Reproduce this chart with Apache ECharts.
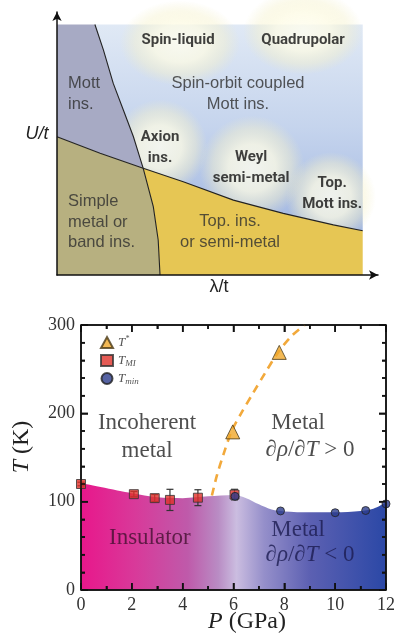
<!DOCTYPE html>
<html><head><meta charset="utf-8">
<script src="https://cdn.jsdelivr.net/npm/echarts@6/dist/echarts.min.js"></script>
<style>html,body{margin:0;padding:0;background:#fff}#c{width:394px;height:640px}</style>
</head><body><div id="c"></div>
<script>
// ===== Top panel: schematic phase diagram (lambda/t vs U/t, arbitrary units 0..10) =====
const mottLineX = [1.24, 1.52, 1.84, 2.17, 2.50, 2.82, 3.15, 3.31, 3.37];
const mottLineY = [10.0, 8.98, 7.65, 6.59, 5.52, 4.26, 2.73, 1.40, 0];
const bandLineX = [0, 1.41, 2.82, 4.13, 5.77, 7.40, 9.04, 10.0];
const bandLineY = [5.52, 4.86, 4.26, 3.72, 2.99, 2.46, 2.00, 1.77];
const regionMax = 10;

const topLabelText = ['Spin-liquid', 'Quadrupolar', 'Spin-orbit coupled\nMott ins.', 'Mott\nins.',
  'Axion\nins.', 'Weyl\nsemi-metal', 'Top.\nMott ins.', 'Simple\nmetal or\nband ins.', 'Top. ins.\nor semi-metal'];
const topLabelX = [3.96, 8.05, 5.92, 0.36, 3.37, 6.35, 9.0, 0.36, 5.66];
const topLabelY = [9.38, 9.38, 7.21, 7.21, 5.09, 4.29, 3.25, 2.10, 1.70];

const glowX = [4.02, 8.05, 3.37, 6.38, 8.96];
const glowY = [9.26, 9.70, 5.11, 4.27, 3.11];

// ===== Bottom panel: T-P phase diagram =====
const tStarP = [5.97, 7.8];
const tStarT = [179, 269];
const tmiP = [0, 2.08, 2.9, 3.5, 4.6, 6.04];
const tmiT = [120, 108.5, 104, 102, 104.5, 108];
const tmiErr = [2, 3, 4, 12, 9, 6];
const tminP = [6.06, 7.85, 10.0, 11.2, 12.0];
const tminT = [106, 89.5, 87.5, 90, 97.5];
const boundaryP = [0, 2, 3, 4, 5, 6, 6.5, 7, 7.5, 8, 9, 10, 11, 11.5, 12];
const boundaryT = [121, 109.5, 105, 104, 106, 107.5, 104, 97, 91, 89, 88, 88, 89.5, 92, 99];
const crossoverP = [5.15, 5.35, 5.6, 5.93, 6.3, 6.75, 7.25, 7.78, 8.3, 8.8];
const crossoverT = [107, 130, 153, 180, 200, 222, 246, 270, 288, 300];
const xTicks = [0, 2, 4, 6, 8, 10, 12];
const xMinorTicks = [1, 3, 5, 7, 9, 11];
const yTicks = [0, 100, 200, 300];
const yMinorTicks = [20, 40, 60, 80, 120, 140, 160, 180, 220, 240, 260, 280];

// ---------- styles ----------
const SANS = '"Liberation Sans", Arial, sans-serif';
const NARROW = 'Roboto, "Liberation Sans", sans-serif';
const SERIF = '"Liberation Serif", "Times New Roman", serif';
const boldSet = new Set([0, 1, 4, 5, 6]);
const leftSet = new Set([3, 7]);
const glowSizes = [[120, 85], [120, 85], [95, 95], [105, 105], [90, 90]];
const glowColor = {
  type: 'radial', x: 0.5, y: 0.5, r: 0.5,
  colorStops: [
    { offset: 0, color: 'rgba(255,254,240,1)' },
    { offset: 0.45, color: 'rgba(253,251,228,0.95)' },
    { offset: 0.75, color: 'rgba(246,242,205,0.55)' },
    { offset: 1, color: 'rgba(240,236,195,0)' }
  ]
};

function pts(api, xs, ys, from, to) {
  const out = [];
  if (from <= to) { for (let i = from; i <= to; i++) out.push(api.coord([xs[i], ys[i]])); }
  else { for (let i = from; i >= to; i--) out.push(api.coord([xs[i], ys[i]])); }
  return out;
}
const mI = 5, bI = 2; // crossing point index in mott / band boundary
const mLast = mottLineX.length - 1, bLast = bandLineX.length - 1;

function renderBlue(params, api) {
  const p = [].concat(pts(api, mottLineX, mottLineY, 0, mI), pts(api, bandLineX, bandLineY, bI, bLast),
    [api.coord([regionMax, regionMax])]);
  return { type: 'polygon', shape: { points: p }, style: { fill: {
    type: 'linear', x: 0, y: 0, x2: 0, y2: 1,
    colorStops: [{ offset: 0, color: '#e0e9f5' }, { offset: 0.5, color: '#c5d4ed' }, { offset: 1, color: '#a2b7e1' }] } } };
}
function renderRegions(params, api) {
  const mott = [].concat([api.coord([0, regionMax])], pts(api, mottLineX, mottLineY, 0, mI), pts(api, bandLineX, bandLineY, bI, 0));
  const simple = [].concat(pts(api, bandLineX, bandLineY, 0, bI), pts(api, mottLineX, mottLineY, mI + 1, mLast), [api.coord([0, 0])]);
  const topIns = [].concat(pts(api, bandLineX, bandLineY, bI, bLast), [api.coord([regionMax, 0])], pts(api, mottLineX, mottLineY, mLast, mI + 1));
  return { type: 'group', children: [
    { type: 'polygon', shape: { points: mott }, style: { fill: '#a7aac4' } },
    { type: 'polygon', shape: { points: simple }, style: { fill: '#b7b080' } },
    { type: 'polygon', shape: { points: topIns }, style: { fill: '#e6c654' } },
    { type: 'polyline', shape: { points: pts(api, mottLineX, mottLineY, 0, mLast) }, style: { stroke: '#222', lineWidth: 1.1, fill: null } },
    { type: 'polyline', shape: { points: pts(api, bandLineX, bandLineY, 0, bLast) }, style: { stroke: '#222', lineWidth: 1.1, fill: null } }
  ] };
}
function renderErr(params, api) {
  const x = api.value(0), y = api.value(1), e = api.value(2);
  const a = api.coord([x, y - e]), b = api.coord([x, y + e]);
  const c = 3.5;
  return { type: 'group', children: [
    { type: 'line', shape: { x1: a[0], y1: a[1], x2: b[0], y2: b[1] }, style: { stroke: '#333', lineWidth: 1.2 } },
    { type: 'line', shape: { x1: a[0] - c, y1: a[1], x2: a[0] + c, y2: a[1] }, style: { stroke: '#333', lineWidth: 1.2 } },
    { type: 'line', shape: { x1: b[0] - c, y1: b[1], x2: b[0] + c, y2: b[1] }, style: { stroke: '#333', lineWidth: 1.2 } }
  ] };
}

const topLabelData = topLabelText.map((t, i) => ({
  name: t, value: [topLabelX[i], topLabelY[i]],
  label: {
    fontFamily: boldSet.has(i) ? NARROW : SANS,
    fontWeight: boldSet.has(i) ? 'bold' : 'normal',
    fontSize: boldSet.has(i) ? 15 : 16.5,
    color: boldSet.has(i) ? '#111' : '#2e2e2e',
    align: leftSet.has(i) ? 'left' : 'center',
    lineHeight: i === 7 ? 20.5 : 21
  }
}));

const bottomLabels = [
  { name: 'Incoherent\nmetal', value: [2.6, 173], color: '#222', lh: 28 },
  { name: 'Metal', value: [8.54, 189], color: '#222', lh: 26 },
  { name: '∂{i|ρ}/∂{i|T} > 0', value: [9.01, 158.6], color: '#222', lh: 26 },
  { name: 'Insulator', value: [2.71, 59], color: '#42102f', lh: 26 },
  { name: 'Metal', value: [8.54, 68], color: '#1c1c50', lh: 26 },
  { name: '∂{i|ρ}/∂{i|T} < 0', value: [9.01, 39.6], color: '#1c1c50', lh: 26 }
].map(d => ({ name: d.name, value: d.value, label: { color: d.color, lineHeight: d.lh,
  rich: { i: { fontStyle: 'italic', fontFamily: SERIF, fontSize: 23, color: d.color } } } }));

function ts() { return { color: '#111', width: 1.5 }; }
function bottomX(pos, showLabel) {
  return { gridIndex: 1, type: 'value', min: 0, max: 12, interval: 2, position: pos,
    axisLine: { show: true, onZero: false, lineStyle: ts() },
    axisTick: { show: true, inside: true, length: 7, lineStyle: ts() },
    minorTick: { show: true, splitNumber: 2, length: 4, lineStyle: ts() },
    axisLabel: { show: showLabel, margin: 6, fontFamily: SERIF, fontSize: 18, color: '#333',
      formatter: v => (xTicks.indexOf(v) >= 0 ? String(v) : '') },
    splitLine: { show: false } };
}
function bottomY(pos, showLabel) {
  return { gridIndex: 1, type: 'value', min: 0, max: 300, interval: 100, position: pos,
    axisLine: { show: true, onZero: false, lineStyle: ts() },
    axisTick: { show: true, inside: true, length: 7, lineStyle: ts() },
    minorTick: { show: true, splitNumber: 5, length: 4, lineStyle: ts() },
    axisLabel: { show: showLabel, margin: 6, fontFamily: SERIF, fontSize: 18, color: '#333',
      formatter: v => (yTicks.indexOf(v) >= 0 ? String(v) : '') },
    splitLine: { show: false } };
}
function topAxis() {
  return { gridIndex: 0, type: 'value', min: 0, max: 10.5,
    axisLine: { show: true, onZero: false, symbol: ['none', 'arrow'], symbolSize: [7, 9], lineStyle: { color: '#111', width: 1.5 } },
    axisTick: { show: false }, axisLabel: { show: false }, splitLine: { show: false } };
}

const textEls = [
  { id: 'ut', type: 'text', x: 37, y: 134, style: { text: 'U/t', font: 'italic 18px ' + SANS, fill: '#222', align: 'center', verticalAlign: 'middle' } },
  { id: 'lt', type: 'text', x: 219, y: 287, style: { text: 'λ/t', font: '18px ' + SANS, fill: '#222', align: 'center', verticalAlign: 'middle' } },
  { id: 'tk', type: 'text', x: 22, y: 447, rotation: Math.PI / 2,
    style: { text: '{i|T} (K)', font: '24px ' + SERIF, fill: '#222', align: 'center', verticalAlign: 'middle',
      rich: { i: { fontStyle: 'italic', fontFamily: SERIF, fontSize: 24, fill: '#222' } } } },
  { id: 'pg', type: 'text', x: 247, y: 622,
    style: { text: '{i|P} (GPa)', font: '24px ' + SERIF, fill: '#222', align: 'center', verticalAlign: 'middle',
      rich: { i: { fontStyle: 'italic', fontFamily: SERIF, fontSize: 24, fill: '#222' } } } }
];

const chart = echarts.init(document.getElementById('c'));
chart.setOption({
  animation: false,
  grid: [
    { left: 57, top: 12, width: 321, height: 263, outerBoundsMode: 'none' },
    { left: 81, top: 325, width: 305, height: 265, outerBoundsMode: 'none' }
  ],
  xAxis: [topAxis(), bottomX('bottom', true), bottomX('top', false)],
  yAxis: [topAxis(), bottomY('left', true), bottomY('right', false)],
  legend: {
    data: ['T*', 'TMI', 'Tmin'], orient: 'vertical', left: 100, top: 335, padding: 0,
    itemWidth: 12, itemHeight: 11, itemGap: 3,
    textStyle: { color: '#555', fontFamily: SERIF, fontSize: 13, lineHeight: 15,
      rich: {
        i: { fontStyle: 'italic', fontFamily: SERIF, fontSize: 13, color: '#555', lineHeight: 15 },
        sup: { fontStyle: 'italic', fontFamily: SERIF, fontSize: 8, color: '#555', verticalAlign: 'top', lineHeight: 15 },
        sub: { fontStyle: 'italic', fontFamily: SERIF, fontSize: 9, color: '#555', verticalAlign: 'bottom', lineHeight: 12 }
      } },
    formatter: n => n === 'T*' ? '{i|T}{sup|*}' : (n === 'TMI' ? '{i|T}{sub|MI}' : '{i|T}{sub|min}')
  },
  series: [
    { type: 'custom', xAxisIndex: 0, yAxisIndex: 0, z: -5, silent: true, renderItem: renderBlue, data: [[0, 0]] },
    { type: 'scatter', xAxisIndex: 0, yAxisIndex: 0, z: -4, silent: true, clip: false,
      data: glowX.map((x, i) => ({ value: [x, glowY[i]], symbolSize: glowSizes[i] })),
      symbol: 'circle', itemStyle: { color: glowColor } },
    { type: 'custom', xAxisIndex: 0, yAxisIndex: 0, z: -3, silent: true, renderItem: renderRegions, data: [[0, 0]] },
    { type: 'scatter', xAxisIndex: 0, yAxisIndex: 0, z: 5, silent: true, clip: false, symbolSize: 1,
      itemStyle: { color: 'rgba(0,0,0,0)' },
      label: { show: true, position: 'inside', fontSize: 16, formatter: p => p.name },
      data: topLabelData },

    { type: 'line', xAxisIndex: 1, yAxisIndex: 1, z: -5, silent: true, symbol: 'none', smooth: 0.3,
      data: boundaryP.map((p, i) => [p, boundaryT[i]]), lineStyle: { width: 0 },
      areaStyle: { opacity: 1, color: { type: 'linear', x: 0, y: 0, x2: 1, y2: 0, colorStops: [
        { offset: 0, color: '#e8178b' }, { offset: 0.18, color: '#d83a9a' }, { offset: 0.35, color: '#bf5aaa' },
        { offset: 0.45, color: '#b98cc4' }, { offset: 0.51, color: '#cbbde0' }, { offset: 0.6, color: '#958fca' },
        { offset: 0.75, color: '#5c60b2' }, { offset: 1, color: '#2b48a6' } ] } } },
    { type: 'line', xAxisIndex: 1, yAxisIndex: 1, z: 2, silent: true, symbol: 'none', smooth: 0.3,
      data: crossoverP.map((p, i) => [p, crossoverT[i]]),
      lineStyle: { color: '#f2a93b', width: 2.6, type: [8, 6] } },
    { type: 'custom', xAxisIndex: 1, yAxisIndex: 1, z: 3, silent: true, renderItem: renderErr,
      data: tmiP.map((p, i) => [p, tmiT[i], tmiErr[i]]) },
    { name: 'T*', type: 'scatter', xAxisIndex: 1, yAxisIndex: 1, z: 12, clip: false, symbol: 'triangle', symbolSize: 14,
      itemStyle: { color: '#f0a72a', borderColor: '#4a3a18', borderWidth: 1 },
      data: tStarP.map((p, i) => [p, tStarT[i]]) },
    { name: 'TMI', type: 'scatter', xAxisIndex: 1, yAxisIndex: 1, z: 12, clip: false, symbol: 'rect', symbolSize: 9,
      itemStyle: { color: '#e0322a', borderColor: '#333', borderWidth: 1 },
      data: tmiP.map((p, i) => [p, tmiT[i]]) },
    { name: 'Tmin', type: 'scatter', xAxisIndex: 1, yAxisIndex: 1, z: 12, clip: false, symbol: 'circle', symbolSize: 8,
      itemStyle: { color: '#2c3c8c', borderColor: '#222', borderWidth: 1 },
      data: tminP.map((p, i) => [p, tminT[i]]) },
    { type: 'scatter', xAxisIndex: 1, yAxisIndex: 1, z: 6, silent: true, clip: false, symbolSize: 1,
      itemStyle: { color: 'rgba(0,0,0,0)' },
      label: { show: true, position: 'inside', fontFamily: SERIF, fontSize: 23, formatter: p => p.name },
      data: bottomLabels }
  ]
});

// frame and inward ticks of the lower plot, positioned through the axis scales
const frameEls = [];
try {
  const px = v => chart.convertToPixel({ gridIndex: 1 }, v);
  const bl = px([0, 0]), tr = px([12, 300]);
  let k = 0;
  const ln = (x1, y1, x2, y2) => frameEls.push({ id: 'f' + (k++), type: 'line', z: 100, silent: true,
    shape: { x1: x1, y1: y1, x2: x2, y2: y2 }, style: { stroke: '#111', lineWidth: 1.5 } });
  ln(bl[0], tr[1], tr[0], tr[1]); ln(tr[0], tr[1], tr[0], bl[1]);
  ln(bl[0], bl[1], tr[0], bl[1]); ln(bl[0], tr[1], bl[0], bl[1]);
  const addX = (v, len) => { const x = px([v, 0])[0]; ln(x, bl[1], x, bl[1] - len); ln(x, tr[1], x, tr[1] + len); };
  const addY = (v, len) => { const y = px([0, v])[1]; ln(bl[0], y, bl[0] + len, y); ln(tr[0], y, tr[0] - len, y); };
  xTicks.forEach(v => addX(v, 7)); xMinorTicks.forEach(v => addX(v, 4));
  yTicks.forEach(v => addY(v, 7)); yMinorTicks.forEach(v => addY(v, 4));
} catch (e) { /* keep the chart even if conversion fails */ }
chart.setOption({ graphic: textEls.concat(frameEls) });
</script>
</body></html>
